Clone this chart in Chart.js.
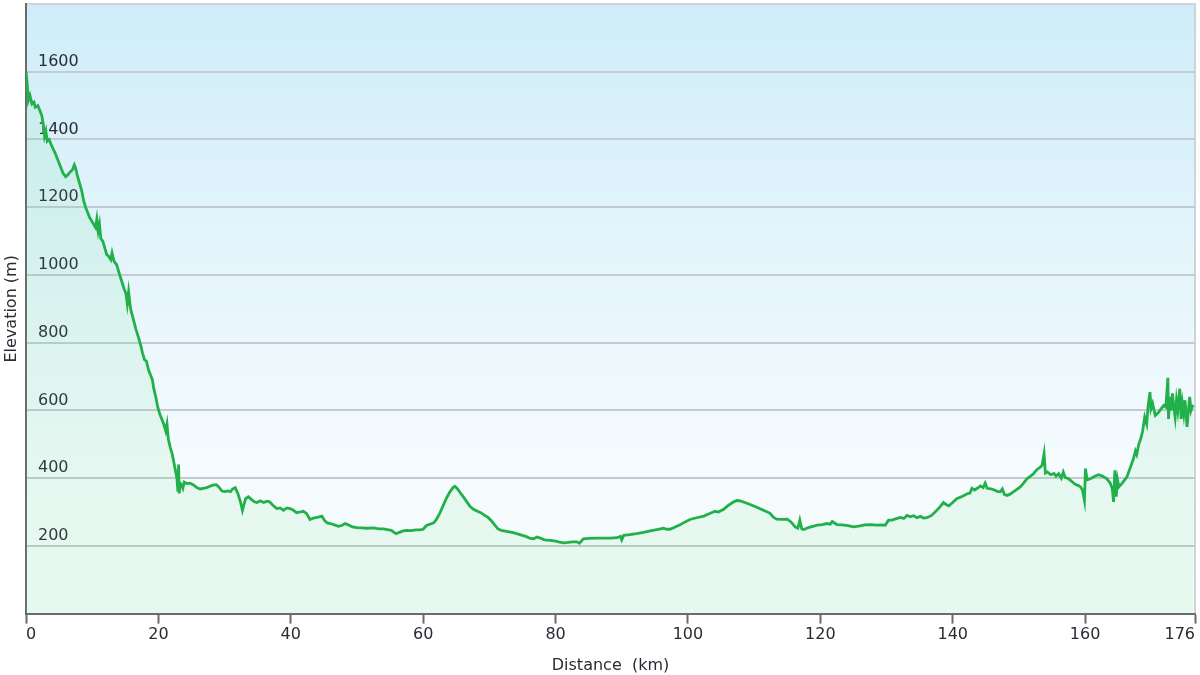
<!DOCTYPE html>
<html>
<head>
<meta charset="utf-8">
<title>Elevation profile</title>
<script src="https://cdn.jsdelivr.net/npm/chart.js@4/dist/chart.umd.min.js"></script>
<style>
  html, body { margin: 0; padding: 0; background: #fff; }
  #wrap { width: 1200px; height: 675px; }
</style>
</head>
<body>
<div id="wrap"><canvas id="profile" width="1200" height="675"></canvas></div>
<script>
  // distance along the route (km) and elevation (m)
  const distanceKm = [
    0.0, 0.2, 0.35, 0.6, 0.9, 1.2, 1.4, 1.8, 2.1, 2.4, 2.6, 2.8, 3.0, 3.2, 3.5, 3.8, 4.1, 4.4, 4.8, 5.2,
    5.6, 6.0, 6.3, 6.7, 7.0, 7.3, 7.5, 7.8, 8.1, 8.4, 8.7, 9.0, 9.3, 9.6, 9.9, 10.2, 10.5, 10.7, 10.9, 11.1,
    11.3, 11.6, 11.9, 12.2, 12.5, 12.8, 13.0, 13.3, 13.7, 14.0, 14.4, 14.8, 15.1, 15.3, 15.5, 15.8, 16.2, 16.6, 17.0, 17.3,
    17.6, 17.9, 18.2, 18.5, 18.8, 19.1, 19.3, 19.6, 19.9, 20.2, 20.5, 20.8, 21.1, 21.3, 21.5, 21.8, 22.1, 22.4, 22.6, 22.8,
    22.95, 23.05, 23.15, 23.3, 23.5, 23.7, 23.9, 24.3, 24.8, 25.3, 25.8, 26.3, 26.8, 27.3, 27.8, 28.3, 28.8, 29.2, 29.6, 30.1,
    30.5, 30.9, 31.2, 31.6, 32.0, 32.4, 32.7, 32.9, 33.2, 33.6, 34.0, 34.5, 34.9, 35.4, 35.9, 36.4, 36.8, 37.3, 37.9, 38.4,
    38.9, 39.4, 39.9, 40.4, 40.9, 41.4, 41.9, 42.4, 42.9, 43.4, 44.0, 44.7, 45.1, 45.5, 46.0, 46.6, 47.2, 47.7, 48.2, 48.7,
    49.3, 50.0, 50.7, 51.5, 52.5, 53.3, 54.0, 54.6, 55.2, 55.6, 55.9, 56.4, 57.0, 57.5, 58.2, 58.9, 59.5, 60.0, 60.5, 61.0,
    61.6, 62.0, 62.5, 63.0, 63.5, 64.0, 64.5, 64.8, 65.2, 65.7, 66.1, 66.6, 67.1, 67.6, 68.2, 68.7, 69.3, 69.8, 70.3, 70.8,
    71.3, 71.8, 72.6, 73.6, 74.5, 75.5, 76.2, 76.7, 77.2, 77.7, 78.3, 79.2, 80.0, 80.6, 81.2, 81.9, 82.6, 83.2, 83.6, 84.2,
    85.0, 86.0, 87.2, 88.3, 89.3, 89.8, 90.0, 90.3, 91.2, 92.2, 93.3, 94.3, 95.3, 96.3, 96.8, 97.3, 98.0, 98.8, 99.5, 100.3,
    101.3, 102.4, 103.2, 104.1, 104.6, 105.4, 106.0, 106.9, 107.4, 107.9, 108.6, 109.4, 110.4, 111.4, 112.0, 112.4, 112.9, 113.4, 114.2, 115.0,
    115.6, 116.2, 116.6, 116.9, 117.2, 117.5, 118.2, 119.0, 119.5, 120.3, 121.0, 121.5, 121.8, 122.5, 123.3, 124.2, 125.0, 125.8, 126.7, 127.6,
    128.5, 129.2, 129.8, 130.3, 130.8, 131.6, 132.1, 132.6, 133.1, 133.6, 134.1, 134.6, 135.1, 135.6, 136.1, 136.8, 137.6, 138.1, 138.6, 139.0,
    139.4, 140.0, 140.6, 141.4, 142.2, 142.6, 142.9, 143.3, 143.7, 144.2, 144.6, 144.9, 145.2, 145.8, 146.3, 146.7, 147.2, 147.5, 147.8, 148.2,
    148.6, 149.2, 149.7, 150.2, 150.7, 151.2, 151.7, 152.2, 152.7, 153.2, 153.5, 153.8, 154.0, 154.3, 154.8, 155.3, 155.6, 156.0, 156.4, 156.7,
    157.0, 157.5, 158.0, 158.5, 159.0, 159.3, 159.6, 159.9, 160.05, 160.3, 160.8, 161.4, 162.0, 162.6, 163.3, 163.8, 164.1, 164.3, 164.5, 164.7,
    164.9, 165.1, 165.6, 166.3, 166.8, 167.3, 167.6, 167.8, 168.1, 168.4, 168.7, 169.0, 169.3, 169.5, 169.8, 169.95, 170.2, 170.6, 171.0, 171.5,
    171.9, 172.2, 172.5, 172.6, 172.8, 173.0, 173.2, 173.4, 173.6, 173.8, 174.0, 174.3, 174.5, 174.7, 174.9, 175.1, 175.4, 175.6, 175.8, 176.0,
    176.2, 176.4
  ];
  const elevationM = [
    1600, 1560, 1515, 1530, 1505, 1510, 1495, 1500, 1485, 1470, 1445, 1410, 1425, 1395, 1400, 1385, 1372, 1360, 1340, 1320,
    1300, 1290, 1295, 1305, 1310, 1325, 1315, 1290, 1270, 1250, 1220, 1200, 1185, 1170, 1160, 1150, 1140, 1165, 1130, 1150,
    1107, 1100, 1080, 1060, 1055, 1045, 1065, 1040, 1030, 1010, 985, 960, 945, 915, 950, 900, 870, 840, 815, 795,
    770, 750, 745, 720, 705, 690, 665, 640, 610, 590, 575, 560, 540, 560, 515, 490, 470, 440, 420, 400,
    360, 440, 355, 385, 380, 370, 388, 384, 385, 380, 372, 368, 370, 372, 376, 380, 380, 372, 362, 360,
    362, 360, 368, 372, 355, 330, 305, 320, 340, 345, 338, 330, 328, 333, 328, 332, 330, 320, 310, 312,
    305, 312, 310, 305, 298, 300, 302, 295, 278, 282, 284, 288, 275, 268, 266, 262, 258, 260, 266, 262,
    256, 254, 253, 252, 253, 250, 250, 248, 246, 240, 236, 240, 244, 246, 245, 247, 247, 249, 260, 264,
    268, 278, 296, 318, 340, 358, 372, 376, 368, 354, 344, 330, 316, 308, 302, 298, 290, 284, 274, 262,
    250, 246, 243, 239, 234, 228, 222, 221, 226, 223, 218, 216, 214, 211, 209, 210, 212, 212, 208, 221,
    222, 223, 223, 223, 224, 228, 218, 231, 233, 236, 240, 244, 248, 252, 249, 249, 255, 262, 270, 278,
    283, 288, 295, 302, 300, 308, 318, 330, 334, 333, 328, 322, 314, 305, 300, 296, 285, 279, 278, 279,
    270, 256, 252, 276, 250, 248, 254, 258, 261, 263, 266, 264, 272, 263, 262, 260, 256, 258, 262, 263,
    261, 262, 261, 276, 276, 281, 284, 281, 290, 286, 289, 283, 287, 282, 283, 290, 305, 316, 328, 322,
    318, 328, 339, 346, 354, 356, 370, 365, 370, 377, 372, 385, 370, 368, 365, 361, 360, 368, 352, 349,
    352, 360, 367, 374, 385, 398, 405, 413, 425, 432, 438, 472, 415, 418, 410, 414, 406, 413, 400, 418,
    402, 398, 390, 382, 378, 374, 365, 334, 428, 395, 398, 405, 410, 406, 398, 385, 369, 330, 423, 345,
    395, 374, 385, 403, 430, 457, 480, 470, 500, 516, 540, 580, 560, 610, 654, 605, 620, 585, 592, 605,
    615, 610, 696, 575, 640, 600, 650, 610, 580, 630, 600, 664, 575, 620, 590, 630, 551, 600, 640, 600,
    612, 615
  ];

  const routeLengthKm = 176.6;
  const xTickValues = [0, 20, 40, 60, 80, 100, 120, 140, 160, 176.6];
  const xTickLabels = ['0', '20', '40', '60', '80', '100', '120', '140', '160', '176'];
  const yTickValues = [200, 400, 600, 800, 1000, 1200, 1400, 1600];
  const yMax = 1800;

  const labelFont = { family: 'DejaVu Sans', size: 16 };
  const textColor = '#2b2b33';

  // sky gradient behind the plot plus the thin light frame on top and right
  const plotBackground = {
    id: 'plotBackground',
    beforeDraw(chart) {
      const { ctx, chartArea: a } = chart;
      const g = ctx.createLinearGradient(0, a.top, 0, a.bottom);
      g.addColorStop(0, '#cfedf9');
      g.addColorStop(0.75, '#f5fbfe');
      g.addColorStop(1, '#f7fdfb');
      ctx.save();
      ctx.fillStyle = g;
      ctx.fillRect(a.left, a.top, a.right - a.left, a.bottom - a.top);
      ctx.strokeStyle = '#cdd3d7';
      ctx.lineWidth = 2;
      ctx.beginPath();
      ctx.moveTo(a.left, a.top);
      ctx.lineTo(a.right, a.top);
      ctx.lineTo(a.right, a.bottom);
      ctx.stroke();
      ctx.restore();
    }
  };

  const points = distanceKm.map((d, i) => ({ x: d, y: elevationM[i] }));

  new Chart(document.getElementById('profile'), {
    type: 'line',
    data: {
      datasets: [{
        label: 'Elevation',
        data: points,
        borderColor: '#22b04b',
        borderWidth: 2.8,
        pointRadius: 0,
        tension: 0,
        fill: 'origin',
        backgroundColor: (c) => {
          const a = c.chart.chartArea;
          if (!a) return 'rgba(90, 210, 130, 0.12)';
          const g = c.chart.ctx.createLinearGradient(0, a.top, 0, a.bottom);
          g.addColorStop(0, 'rgba(80, 210, 130, 0.10)');
          g.addColorStop(1, 'rgba(90, 215, 120, 0.10)');
          return g;
        }
      }]
    },
    options: {
      responsive: false,
      animation: false,
      layout: { padding: { top: 4, right: 5, left: 0, bottom: 0 } },
      plugins: {
        legend: { display: false },
        tooltip: { enabled: false }
      },
      scales: {
        x: {
          type: 'linear',
          min: 0,
          max: routeLengthKm,
          afterBuildTicks: (s) => { s.ticks = xTickValues.map(v => ({ value: v })); },
          grid: {
            drawOnChartArea: false,
            drawTicks: true,
            tickLength: 10,
            tickColor: '#6a6a6a',
            tickWidth: 2
          },
          border: { color: '#6a6a6a', width: 2 },
          ticks: {
            autoSkip: false,
            maxRotation: 0,
            align: 'inner',
            padding: 2,
            font: labelFont,
            color: textColor,
            callback: (v, i) => xTickLabels[i]
          },
          title: {
            display: true,
            text: 'Distance  (km)',
            font: labelFont,
            color: textColor,
            padding: { top: 9, bottom: 0 }
          }
        },
        y: {
          min: 0,
          max: yMax,
          afterBuildTicks: (s) => { s.ticks = yTickValues.map(v => ({ value: v })); },
          // labels sit inside the plot, so the axis only needs room for its title
          afterFit: (s) => { s.width = 26; s.paddingTop = 0; s.paddingBottom = 0; },
          grid: {
            color: '#c3cbd0',
            lineWidth: 2,
            drawTicks: false
          },
          border: { color: '#6a6a6a', width: 2 },
          ticks: {
            mirror: true,
            padding: 12,
            labelOffset: -10,
            font: labelFont,
            color: textColor,
            callback: (v) => String(v)
          },
          title: {
            display: true,
            text: 'Elevation (m)',
            font: labelFont,
            color: textColor,
            padding: { top: 2, bottom: 4.8 }
          }
        }
      }
    },
    plugins: [plotBackground]
  });
</script>
</body>
</html>
